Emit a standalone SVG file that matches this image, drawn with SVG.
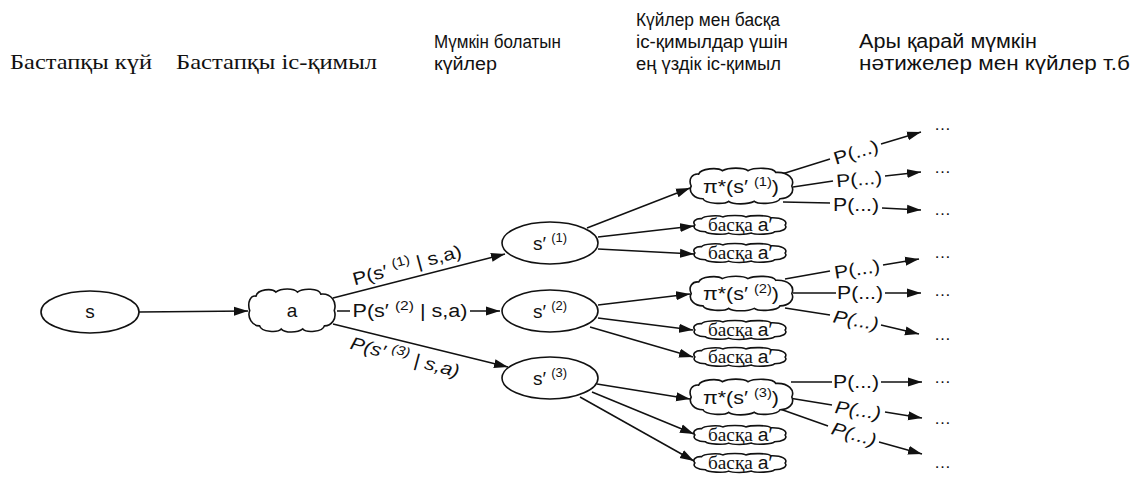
<svg xmlns="http://www.w3.org/2000/svg" xmlns:xlink="http://www.w3.org/1999/xlink" width="1145" height="478" viewBox="0 0 1145 478">
  <style>
    .hs { font-family: "Liberation Serif", "Times New Roman", serif; font-size: 22px; fill: #111; }
    .hh { font-family: "Liberation Sans", Arial, sans-serif; font-size: 20px; fill: #111; }
    .hm { font-family: "Liberation Sans", Arial, sans-serif; font-size: 18px; fill: #111; }
    .lbl { font-family: "Liberation Sans", Arial, sans-serif; font-size: 19px; fill: #111; text-anchor: middle; }
    .elbl { font-family: "Liberation Sans", Arial, sans-serif; font-size: 18px; fill: #111; text-anchor: middle; }
    .pl { font-family: "Liberation Sans", Arial, sans-serif; font-size: 18px; fill: #111; text-anchor: middle; }
    .dots { font-family: "Liberation Sans", Arial, sans-serif; font-size: 17px; fill: #111; }
    .alt { font-family: "Liberation Serif", "Times New Roman", serif; font-size: 18px; fill: #111; text-anchor: middle; }
    .alt .a { font-family: "Liberation Sans", Arial, sans-serif; }
    .node { fill: #fff; stroke: #111; stroke-width: 1.6; }
    .edge { fill: none; stroke: #111; stroke-width: 1.5; }
    .arr { marker-end: url(#head); }
  </style>
  <defs>
    <marker id="head" markerUnits="userSpaceOnUse" markerWidth="15" markerHeight="10" refX="14" refY="5" orient="auto">
      <path d="M0,0.5 L14,5 L0,9.5 Z" fill="#111"/>
    </marker>
    <!-- cloud outline in a 100 x 40 box, scaled per node -->
    <path id="cloud" vector-effect="non-scaling-stroke" d="M3,20 C0,12 4,5 10,6 C12,-1 28,-2 32,2 C38,-2 52,-2 56,2 C62,-2 80,-2 82,4 C94,3 100,12 97,20 C100,28 94,35 86,35 C84,41 66,42 62,38 C56,42 42,42 38,38 C34,42 16,41 14,35 C6,35 0,27 3,20 Z"/>
  </defs>

  <rect width="1145" height="478" fill="#fff"/>

  <!-- column headings -->
  <g id="headings">
    <text class="hs" x="10" y="69" textLength="142" lengthAdjust="spacingAndGlyphs">Бастапқы күй</text>
    <text class="hs" x="176" y="69" textLength="201" lengthAdjust="spacingAndGlyphs">Бастапқы іс-қимыл</text>
    <text class="hm" x="434" y="48" textLength="127" lengthAdjust="spacingAndGlyphs">Мүмкін болатын</text>
    <text class="hm" x="434" y="70" textLength="63" lengthAdjust="spacingAndGlyphs">күйлер</text>
    <text class="hm" x="636" y="26" textLength="144" lengthAdjust="spacingAndGlyphs">Күйлер мен басқа</text>
    <text class="hm" x="636" y="48" textLength="152" lengthAdjust="spacingAndGlyphs">іс-қимылдар үшін</text>
    <text class="hm" x="636" y="70" textLength="145" lengthAdjust="spacingAndGlyphs">ең үздік іс-қимыл</text>
    <text class="hh" x="859" y="48" textLength="178" lengthAdjust="spacingAndGlyphs">Ары қарай мүмкін</text>
    <text class="hh" x="859" y="70" textLength="271" lengthAdjust="spacingAndGlyphs">нәтижелер мен күйлер т.б</text>
  </g>

  <!-- connectors -->
  <g id="connectors">
    <path class="edge arr" d="M139,312 L248,311"/>
    <path class="edge arr" d="M333,298 L505,254"/>
    <path class="edge" d="M337,311 L350,311"/>
    <path class="edge arr" d="M470,311 L500,311"/>
    <path class="edge arr" d="M333,324 L508,367"/>

    <path class="edge arr" d="M587,228 L690,188"/>
    <path class="edge arr" d="M598,237 L694,226"/>
    <path class="edge arr" d="M598,249 L694,254"/>
    <path class="edge arr" d="M598,305 L690,294"/>
    <path class="edge arr" d="M598,318 L693,330"/>
    <path class="edge arr" d="M590,327 L693,357"/>
    <path class="edge arr" d="M597,384 L690,399"/>
    <path class="edge arr" d="M592,392 L694,434"/>
    <path class="edge arr" d="M580,397 L694,461"/>

    <path class="edge" d="M782,174 L830,159"/>
    <path class="edge arr" d="M881,144 L921,132"/>
    <path class="edge" d="M793,187 L833,181"/>
    <path class="edge arr" d="M885,176 L921,172"/>
    <path class="edge" d="M783,202 L830,203"/>
    <path class="edge arr" d="M882,208 L921,210"/>

    <path class="edge" d="M785,279 L830,271"/>
    <path class="edge arr" d="M883,265 L919,259"/>
    <path class="edge" d="M793,293 L836,293"/>
    <path class="edge arr" d="M885,293 L921,293"/>
    <path class="edge" d="M785,308 L830,315"/>
    <path class="edge arr" d="M881,325 L919,334"/>

    <path class="edge" d="M791,382 L832,382"/>
    <path class="edge arr" d="M881,382 L922,382"/>
    <path class="edge" d="M789,398 L832,405"/>
    <path class="edge arr" d="M885,412 L922,418"/>
    <path class="edge" d="M780,409 L828,426"/>
    <path class="edge arr" d="M879,442 L922,454"/>

    <!-- transition probabilities -->
    <text class="elbl" transform="translate(407,265) rotate(-15)" dy="0.35em" textLength="112" lengthAdjust="spacingAndGlyphs">P(s′ <tspan font-size="13" dy="-7">(1)</tspan><tspan dy="7"> | s,a)</tspan></text>
    <text class="elbl" x="410" y="311" dy="0.35em" textLength="115" lengthAdjust="spacingAndGlyphs">P(s′ <tspan font-size="13" dy="-7">(2)</tspan><tspan dy="7"> | s,a)</tspan></text>
    <text class="elbl" transform="translate(405,357) rotate(15)" dy="0.35em" font-style="italic" textLength="112" lengthAdjust="spacingAndGlyphs">P(s′ <tspan font-size="13" dy="-7">(3)</tspan><tspan dy="7"> | s,a)</tspan></text>

    <text class="pl" transform="translate(856,152) rotate(-17)" dy="0.35em" textLength="46" lengthAdjust="spacingAndGlyphs">P(...)</text>
    <text class="pl" transform="translate(859,179) rotate(-5)" dy="0.35em" textLength="46" lengthAdjust="spacingAndGlyphs">P(...)</text>
    <text class="pl" transform="translate(856,205)" dy="0.35em" textLength="46" lengthAdjust="spacingAndGlyphs">P(...)</text>
    <text class="pl" transform="translate(857,269) rotate(-9)" dy="0.35em" textLength="46" lengthAdjust="spacingAndGlyphs">P(...)</text>
    <text class="pl" transform="translate(860,293)" dy="0.35em" textLength="46" lengthAdjust="spacingAndGlyphs">P(...)</text>
    <text class="pl" transform="translate(856,320) rotate(10)" dy="0.35em" font-style="italic" textLength="46" lengthAdjust="spacingAndGlyphs">P(...)</text>
    <text class="pl" transform="translate(856,382)" dy="0.35em" textLength="46" lengthAdjust="spacingAndGlyphs">P(...)</text>
    <text class="pl" transform="translate(858,410) rotate(8)" dy="0.35em" font-style="italic" textLength="46" lengthAdjust="spacingAndGlyphs">P(...)</text>
    <text class="pl" transform="translate(854,434) rotate(16)" dy="0.35em" font-style="italic" textLength="46" lengthAdjust="spacingAndGlyphs">P(...)</text>

    <text class="dots" x="934" y="130">…</text>
    <text class="dots" x="934" y="173">…</text>
    <text class="dots" x="934" y="215">…</text>
    <text class="dots" x="934" y="258">…</text>
    <text class="dots" x="934" y="296">…</text>
    <text class="dots" x="934" y="340">…</text>
    <text class="dots" x="934" y="383">…</text>
    <text class="dots" x="934" y="424">…</text>
    <text class="dots" x="934" y="468">…</text>
  </g>

  <!-- states -->
  <g id="node-s">
    <ellipse class="node" cx="90" cy="312" rx="49" ry="21"/>
    <text class="lbl" x="90" y="318">s</text>
  </g>
  <g id="node-s1">
    <ellipse class="node" cx="550" cy="243" rx="48" ry="21"/>
    <text class="lbl" x="550" y="250">s′ <tspan font-size="13" dy="-8">(1)</tspan></text>
  </g>
  <g id="node-s2">
    <ellipse class="node" cx="550" cy="311" rx="48" ry="21"/>
    <text class="lbl" x="550" y="318">s′ <tspan font-size="13" dy="-8">(2)</tspan></text>
  </g>
  <g id="node-s3">
    <ellipse class="node" cx="550" cy="378" rx="48" ry="21"/>
    <text class="lbl" x="550" y="385">s′ <tspan font-size="13" dy="-8">(3)</tspan></text>
  </g>

  <!-- actions -->
  <g id="node-a">
    <use class="node" href="#cloud" transform="translate(247,290) scale(0.9,1.025)"/>
    <text class="lbl" x="292" y="317">a</text>
  </g>

  <g id="node-pi1">
    <use class="node" href="#cloud" transform="translate(688,169) scale(1.07,0.85)"/>
    <text class="lbl" x="741" y="193" textLength="76" lengthAdjust="spacingAndGlyphs">π*(s′ <tspan font-size="13" dy="-7">(1)</tspan><tspan dy="7">)</tspan></text>
  </g>
  <g id="node-alt1">
    <use class="node" href="#cloud" transform="translate(692,216) scale(0.96,0.45)"/>
    <text class="alt" x="740" y="231" textLength="64" lengthAdjust="spacingAndGlyphs">басқа <tspan class="a">a′</tspan></text>
  </g>
  <g id="node-alt2">
    <use class="node" href="#cloud" transform="translate(692,244) scale(0.96,0.45)"/>
    <text class="alt" x="740" y="259" textLength="64" lengthAdjust="spacingAndGlyphs">басқа <tspan class="a">a′</tspan></text>
  </g>

  <g id="node-pi2">
    <use class="node" href="#cloud" transform="translate(688,277) scale(1.07,0.825)"/>
    <text class="lbl" x="741" y="300" textLength="76" lengthAdjust="spacingAndGlyphs">π*(s′ <tspan font-size="13" dy="-7">(2)</tspan><tspan dy="7">)</tspan></text>
  </g>
  <g id="node-alt3">
    <use class="node" href="#cloud" transform="translate(692,321) scale(0.96,0.45)"/>
    <text class="alt" x="740" y="336" textLength="64" lengthAdjust="spacingAndGlyphs">басқа <tspan class="a">a′</tspan></text>
  </g>
  <g id="node-alt4">
    <use class="node" href="#cloud" transform="translate(692,348) scale(0.96,0.45)"/>
    <text class="alt" x="740" y="363" textLength="64" lengthAdjust="spacingAndGlyphs">басқа <tspan class="a">a′</tspan></text>
  </g>

  <g id="node-pi3">
    <use class="node" href="#cloud" transform="translate(688,380) scale(1.07,0.85)"/>
    <text class="lbl" x="741" y="404" textLength="76" lengthAdjust="spacingAndGlyphs">π*(s′ <tspan font-size="13" dy="-7">(3)</tspan><tspan dy="7">)</tspan></text>
  </g>
  <g id="node-alt5">
    <use class="node" href="#cloud" transform="translate(692,426) scale(0.96,0.45)"/>
    <text class="alt" x="740" y="441" textLength="64" lengthAdjust="spacingAndGlyphs">басқа <tspan class="a">a′</tspan></text>
  </g>
  <g id="node-alt6">
    <use class="node" href="#cloud" transform="translate(692,454) scale(0.96,0.45)"/>
    <text class="alt" x="740" y="469" textLength="64" lengthAdjust="spacingAndGlyphs">басқа <tspan class="a">a′</tspan></text>
  </g>
</svg>
